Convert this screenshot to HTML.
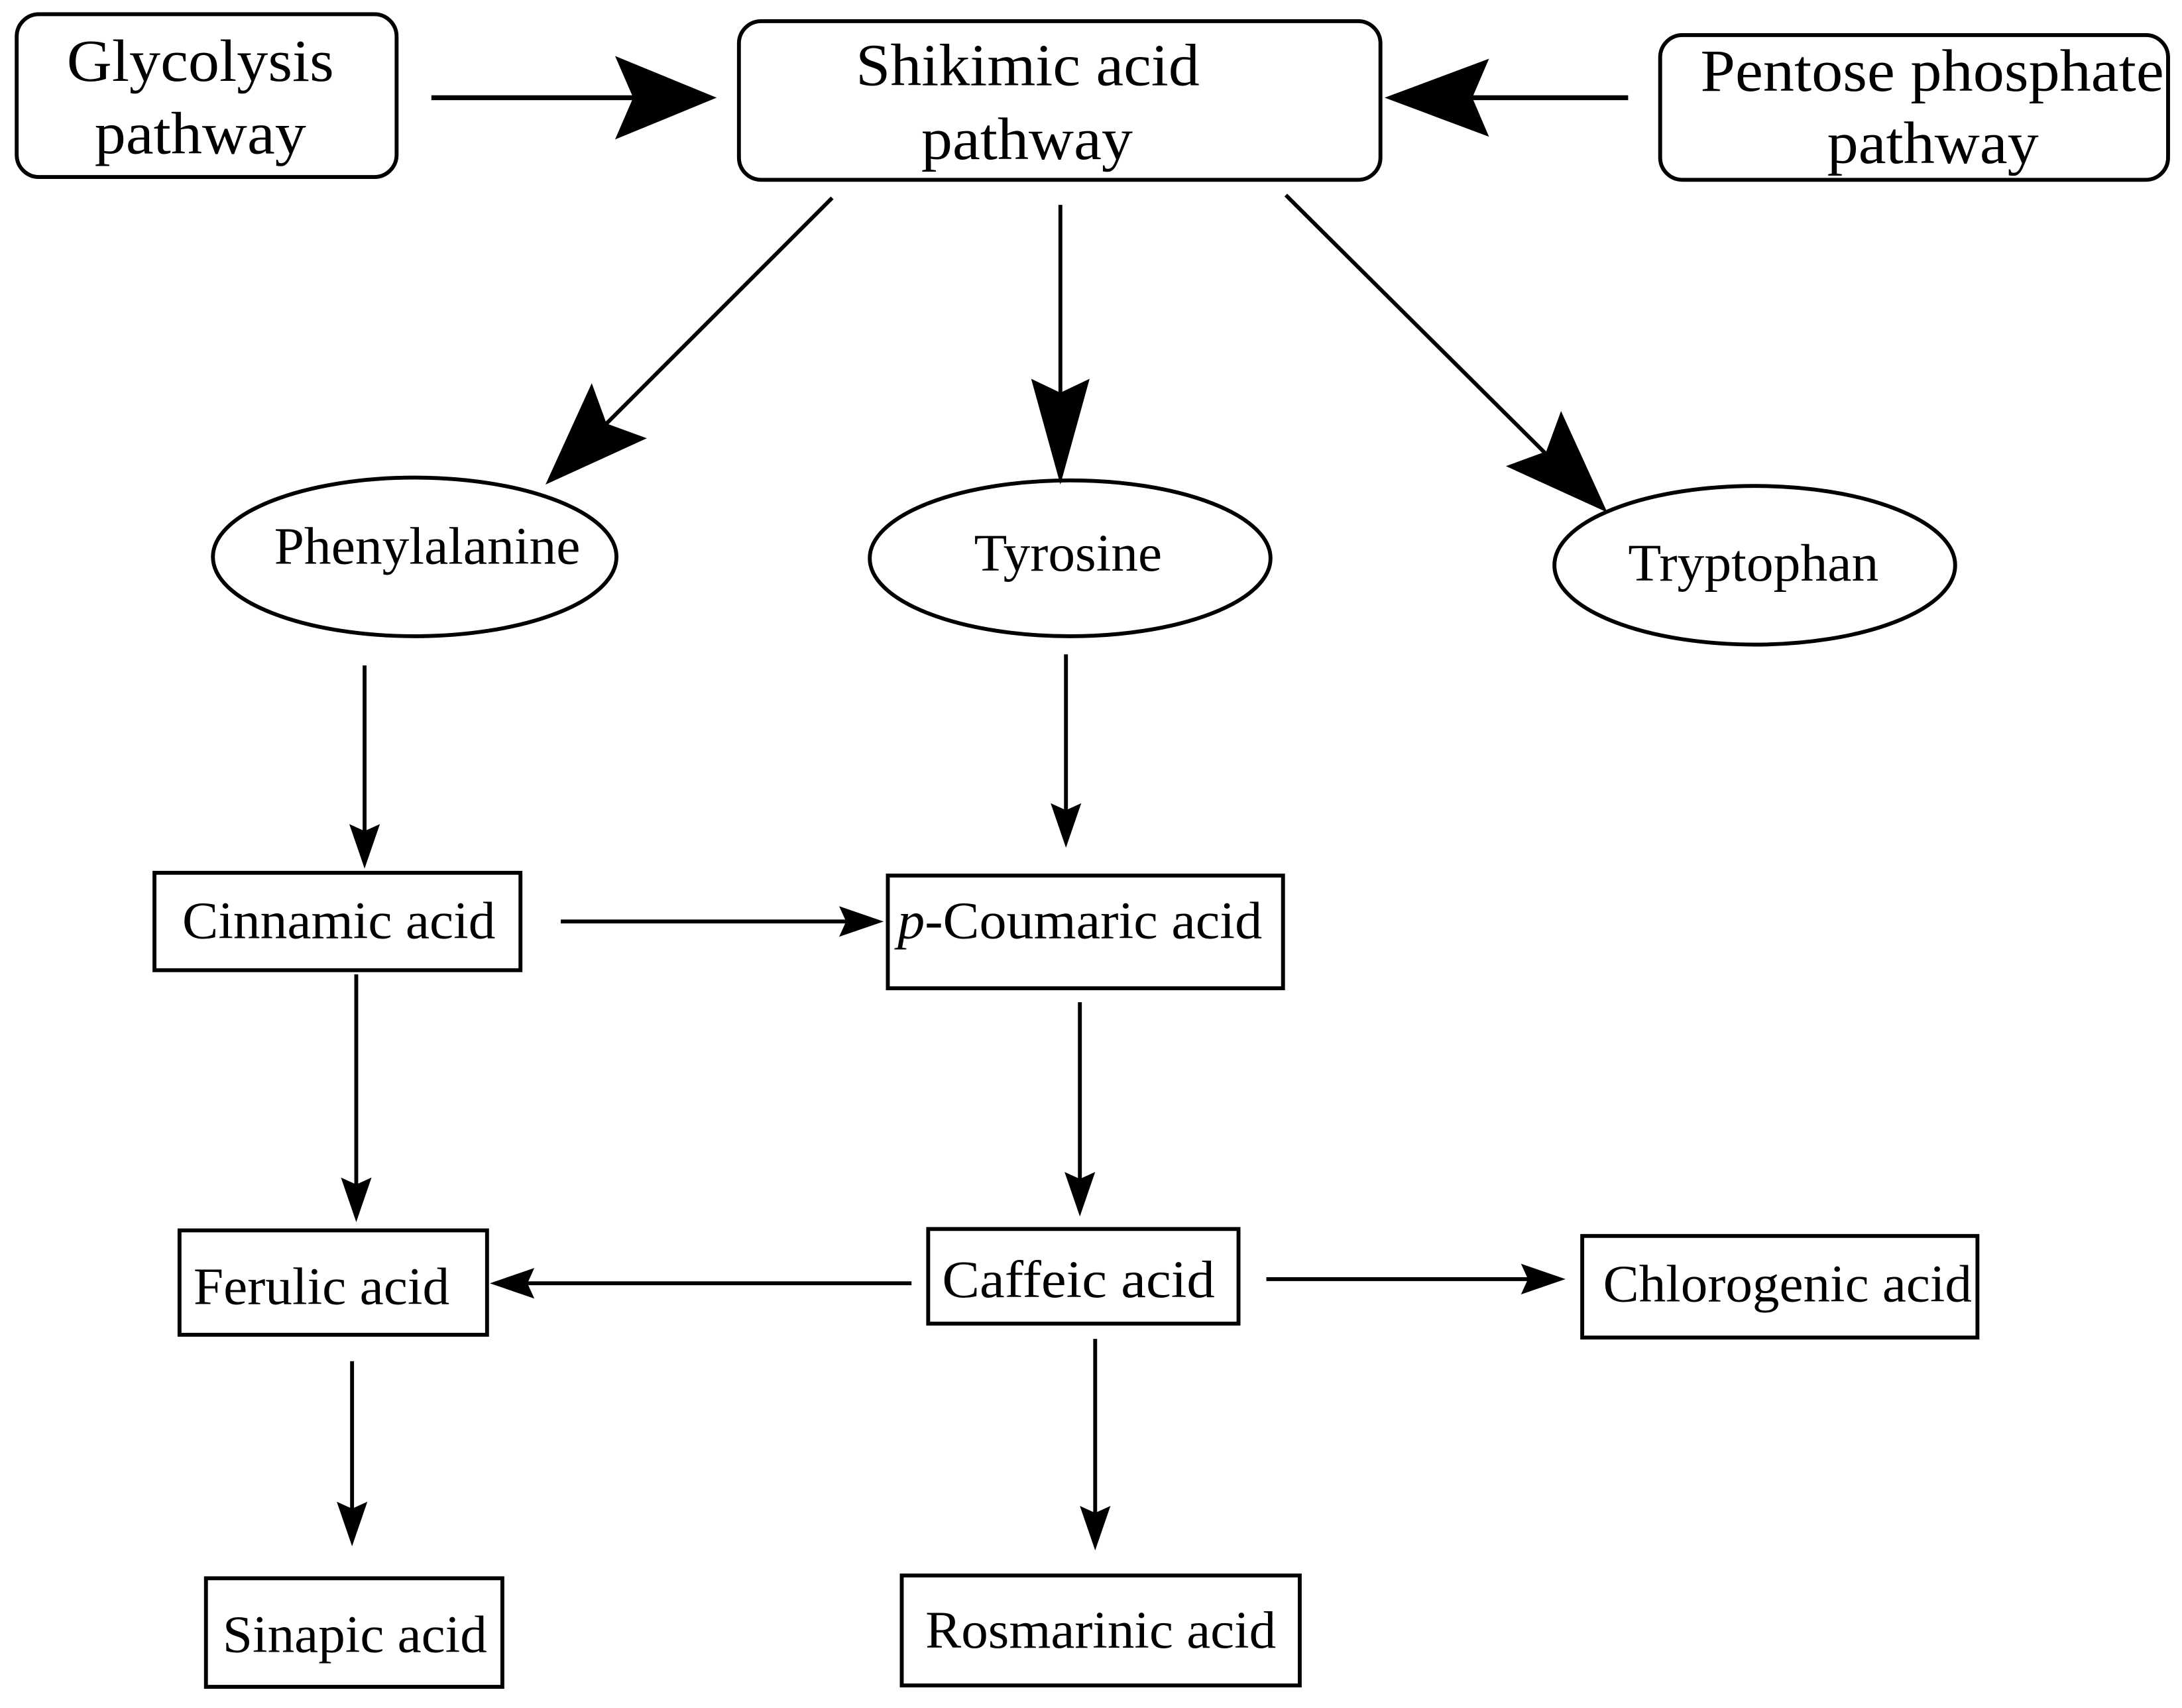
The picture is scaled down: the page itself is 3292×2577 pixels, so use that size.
<!DOCTYPE html>
<html><head><meta charset="utf-8"><style>html,body{margin:0;padding:0;background:#fff}svg{display:block}</style></head>
<body>
<svg width="3292" height="2577" viewBox="0 0 1568 1227" xmlns="http://www.w3.org/2000/svg" font-family="'Liberation Serif', serif" fill="#000">
<g fill="none" stroke="#000" stroke-width="2.8">
<rect x="12" y="10" width="273" height="117" rx="16"/>
<rect x="531" y="15" width="461" height="114" rx="16"/>
<rect x="1193" y="25" width="365" height="104" rx="16"/>
<ellipse cx="298" cy="400" rx="145" ry="57"/>
<ellipse cx="769" cy="401" rx="144" ry="56"/>
<ellipse cx="1261" cy="406" rx="144" ry="57"/>
<rect x="111" y="627" width="263" height="70"/>
<rect x="638" y="629" width="284" height="81"/>
<rect x="129" y="884" width="221" height="75"/>
<rect x="667" y="883" width="223" height="68"/>
<rect x="1137" y="888" width="284" height="73"/>
<rect x="148" y="1134" width="213" height="78"/>
<rect x="648" y="1132" width="286" height="79"/>
<line x1="310" y1="70" x2="460" y2="70" stroke-width="3.5"/>
<line x1="1170" y1="70" x2="1050" y2="70" stroke-width="3.5"/>
<line x1="598" y1="142" x2="430" y2="310"/>
<line x1="762" y1="147" x2="762" y2="300"/>
<line x1="924" y1="140" x2="1115" y2="330"/>
<line x1="262" y1="478" x2="262" y2="600"/>
<line x1="766" y1="470" x2="766" y2="585"/>
<line x1="403" y1="662" x2="610" y2="662"/>
<line x1="256" y1="700" x2="256" y2="855"/>
<line x1="776" y1="720" x2="776" y2="850"/>
<line x1="655" y1="922" x2="375" y2="922"/>
<line x1="910" y1="919" x2="1100" y2="919"/>
<line x1="253" y1="978" x2="253" y2="1088"/>
<line x1="787" y1="962" x2="787" y2="1090"/>
</g>
<polygon points="515,70 442,40 455,70 442,100"/>
<polygon points="995,70 1070,42 1058,70 1070,98"/>
<g transform="translate(392,348) rotate(135)"><polygon points="0,0 -75,-28 -62,0 -75,28"/></g>
<polygon points="762,348 741,272 762,282 783,272"/>
<g transform="translate(1155,368) rotate(45)"><polygon points="0,0 -75,-28 -62,0 -75,28"/></g>
<polygon points="262,624 251,592 262,597 273,592"/>
<polygon points="766,609 755,577 766,582 777,577"/>
<polygon points="635,662 603,651 608,662 603,673"/>
<polygon points="256,878 245,846 256,851 267,846"/>
<polygon points="776,874 765,842 776,847 787,842"/>
<polygon points="352,922 384,911 379,922 384,933"/>
<polygon points="1125,919 1093,908 1098,919 1093,930"/>
<polygon points="253,1111 242,1079 253,1084 264,1079"/>
<polygon points="787,1114 776,1082 787,1087 798,1082"/>
<g font-size="43">
<text x="48" y="58" textLength="192" lengthAdjust="spacingAndGlyphs">Glycolysis</text>
<text x="68" y="110" textLength="152" lengthAdjust="spacingAndGlyphs">pathway</text>
<text x="615" y="61" textLength="247" lengthAdjust="spacingAndGlyphs">Shikimic acid</text>
<text x="662" y="114" textLength="152" lengthAdjust="spacingAndGlyphs">pathway</text>
<text x="1222" y="65" textLength="333" lengthAdjust="spacingAndGlyphs">Pentose phosphate</text>
<text x="1313" y="117" textLength="152" lengthAdjust="spacingAndGlyphs">pathway</text>
</g>
<g font-size="38">
<text x="197" y="405" textLength="220" lengthAdjust="spacingAndGlyphs">Phenylalanine</text>
<text x="700" y="410" textLength="135" lengthAdjust="spacingAndGlyphs">Tyrosine</text>
<text x="1170" y="417" textLength="180" lengthAdjust="spacingAndGlyphs">Tryptophan</text>
<text x="131" y="674" textLength="225" lengthAdjust="spacingAndGlyphs">Cinnamic acid</text>
<text x="645" y="674" textLength="262" lengthAdjust="spacingAndGlyphs"><tspan font-style="italic">p</tspan>-Coumaric acid</text>
<text x="139" y="937" textLength="184" lengthAdjust="spacingAndGlyphs">Ferulic acid</text>
<text x="677" y="932" textLength="196" lengthAdjust="spacingAndGlyphs">Caffeic acid</text>
<text x="1152" y="935" textLength="265" lengthAdjust="spacingAndGlyphs">Chlorogenic acid</text>
<text x="160" y="1187" textLength="190" lengthAdjust="spacingAndGlyphs">Sinapic acid</text>
<text x="665" y="1184" textLength="252" lengthAdjust="spacingAndGlyphs">Rosmarinic acid</text>
</g>
</svg>
</body></html>
